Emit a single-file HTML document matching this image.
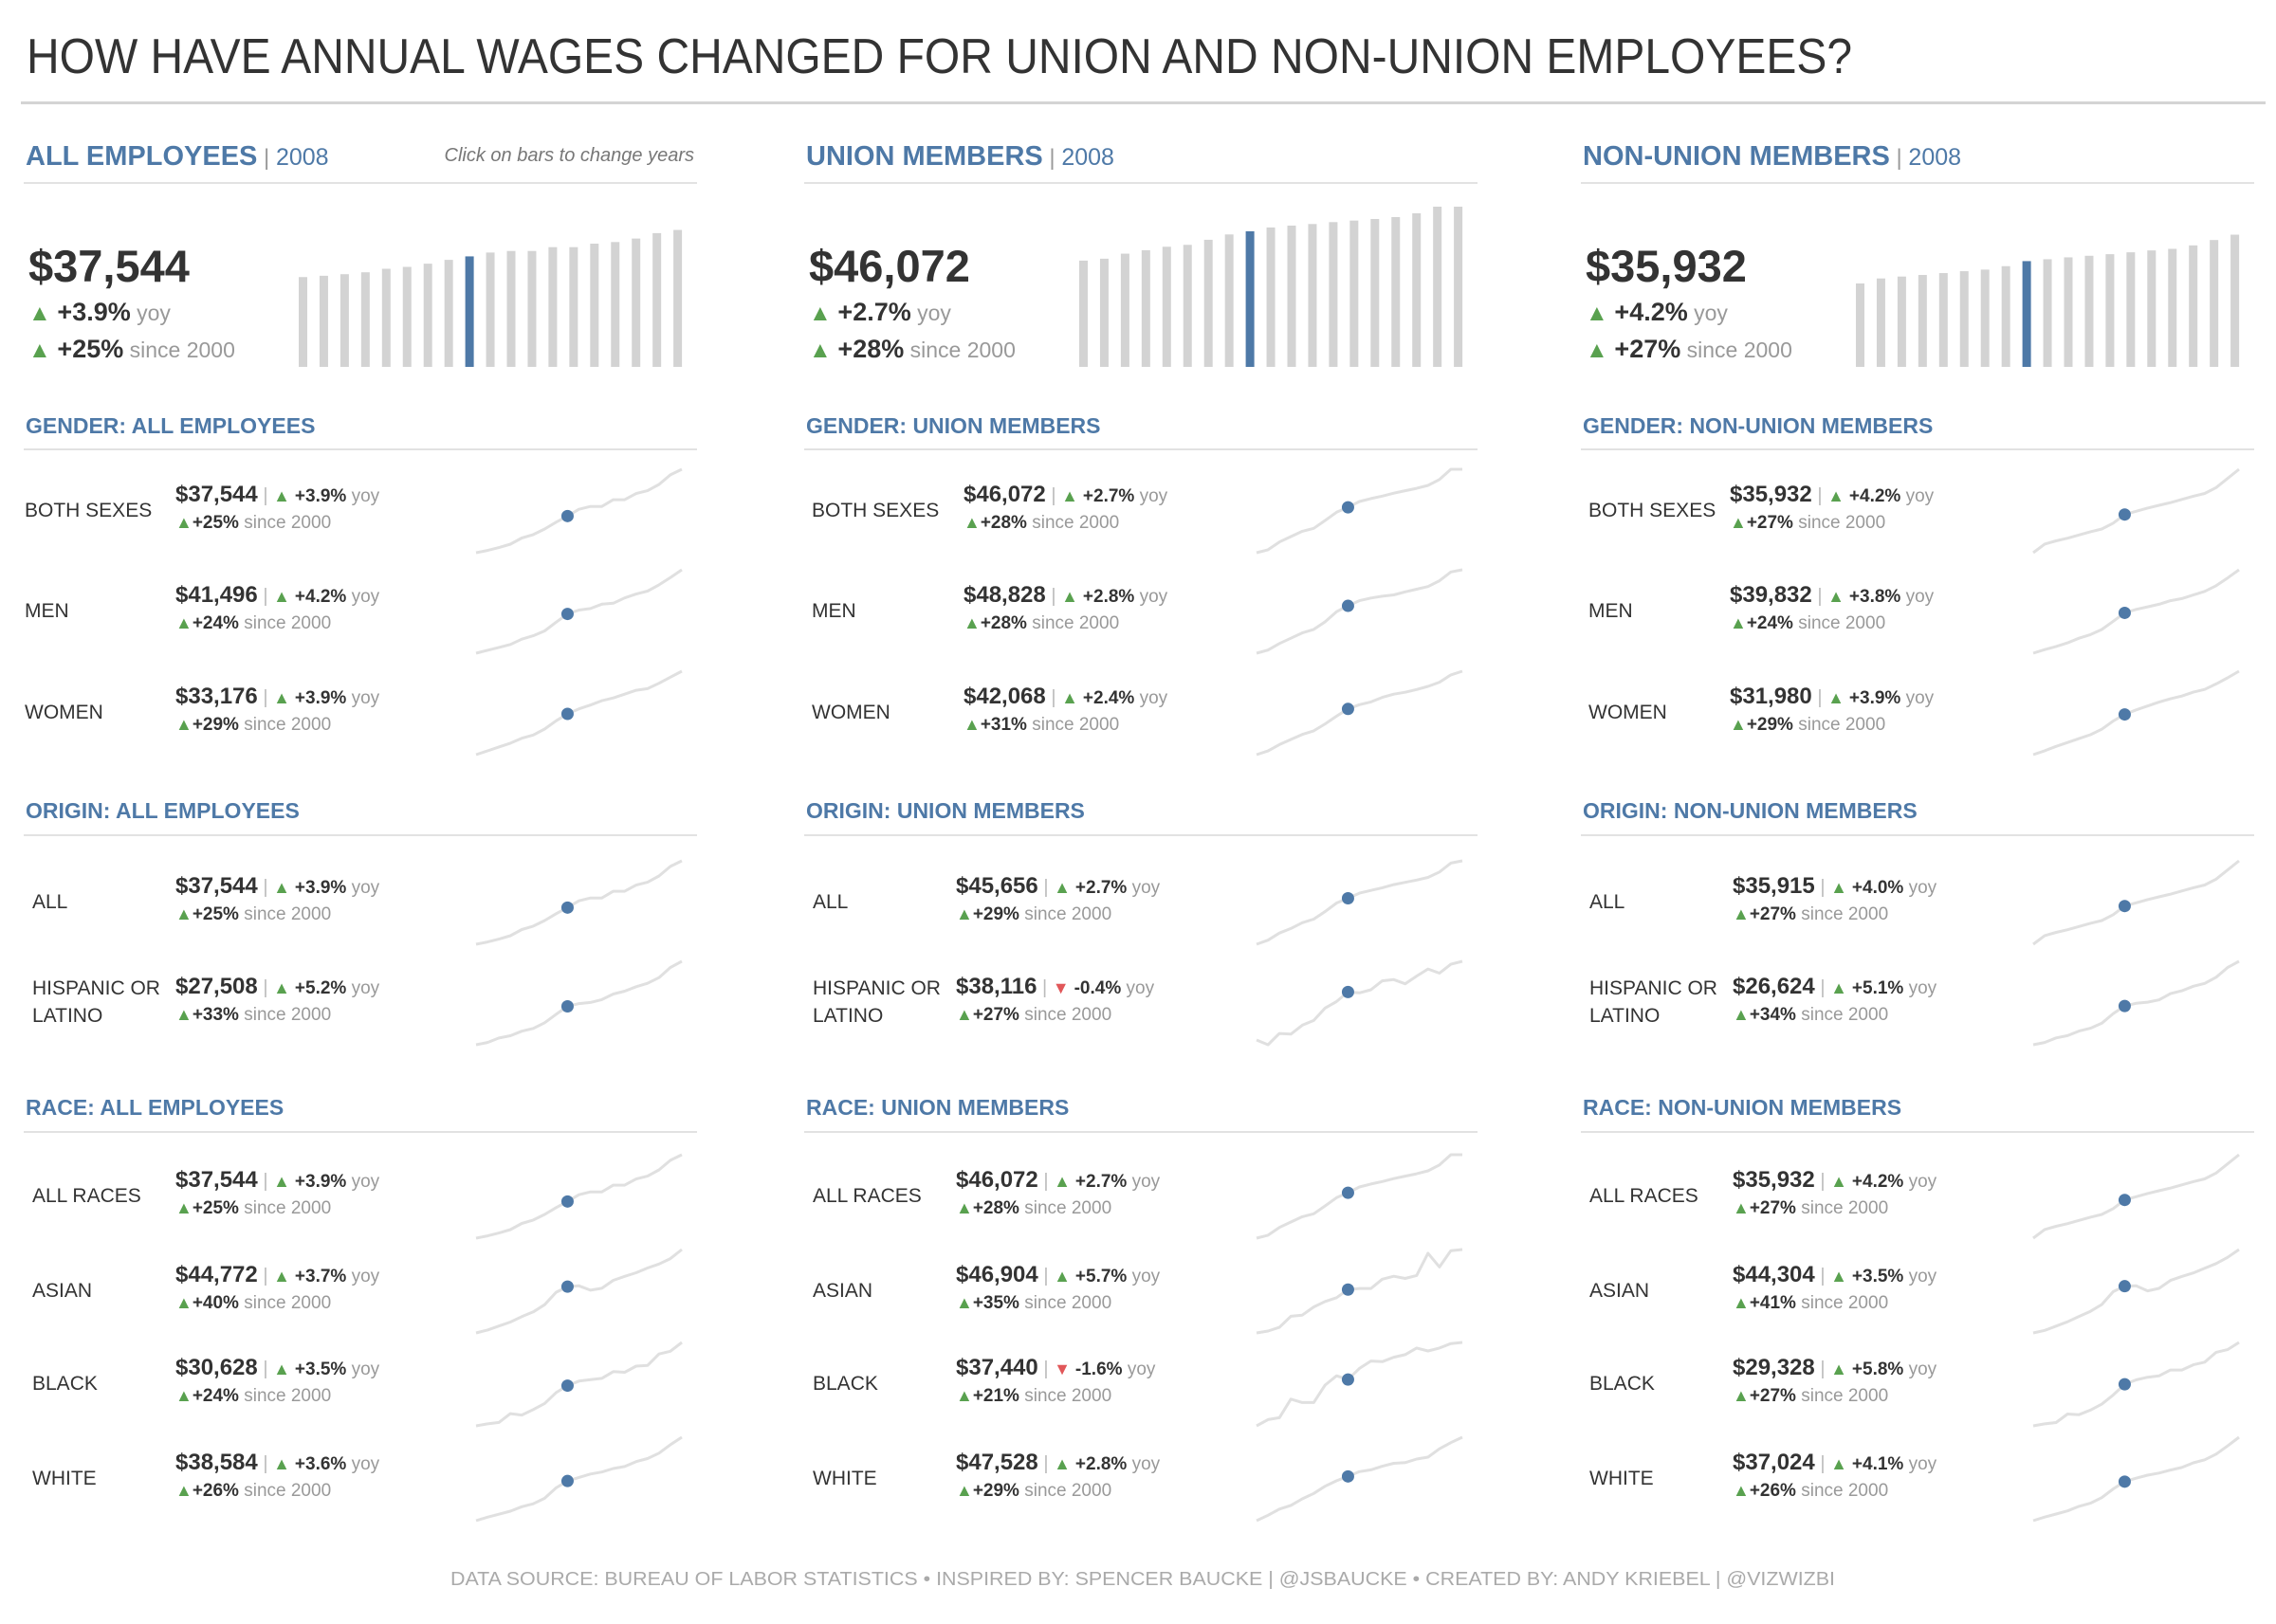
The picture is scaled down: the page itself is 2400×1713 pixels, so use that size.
<!DOCTYPE html>
<html><head><meta charset="utf-8"><style>
html,body{margin:0;padding:0;background:#fff}
svg text{font-family:"Liberation Sans",sans-serif}
</style></head><body>
<svg id="viz" xmlns="http://www.w3.org/2000/svg" width="2400" height="1708" viewBox="0 0 2400 1708">
<text x="28" y="77" font-size="52" fill="#333" textLength="1925" lengthAdjust="spacingAndGlyphs">HOW HAVE ANNUAL WAGES CHANGED FOR UNION AND NON-UNION EMPLOYEES?</text>
<rect x="22" y="107" width="2367" height="3" fill="#d4d4d4"/>
<text x="475" y="1672" font-size="20" fill="#aaa" textLength="1460" lengthAdjust="spacingAndGlyphs">DATA SOURCE: BUREAU OF LABOR STATISTICS  •  INSPIRED BY: SPENCER BAUCKE | @JSBAUCKE  •  CREATED BY: ANDY KRIEBEL | @VIZWIZBI</text>
</svg>
<script>
const years = [2000,2001,2002,2003,2004,2005,2006,2007,2008,2009,2010,2011,2012,2013,2014,2015,2016,2017,2018];
const selectedIndex = 8;
const allBars = [30510,30950,31490,32140,33330,33980,35060,36360,37544,38840,39380,39380,40680,40680,41870,42410,43600,45440,46520];
const unionBars = [36107,36750,38464,39642,40821,41464,43178,45000,46072,47357,48000,48535,49178,49714,50250,50892,52178,54428,54428];
const nonUnionBars = [28339,30050,30692,31226,31868,32510,33045,34221,35932,36573,37215,37750,38285,38927,39568,40103,41279,43097,44915];
const barMax = 54428;

const allMen = [33400,34000,34600,35200,36300,37000,38000,39800,41496,42300,42600,43500,43700,44800,45600,46200,47500,49000,50600];
const allWomen = [25700,26400,27100,27800,28700,29300,30400,31900,33176,34100,34800,35600,36100,36800,37500,37800,38800,39900,41000];
const allHispanic = [20700,21100,21900,22300,23100,23600,24600,26100,27508,28000,28200,28700,29700,30200,31000,31600,32600,34400,35500];
const allAsian = [32000,32800,33900,35000,36500,37800,39800,43200,44772,45000,43800,44300,46500,47600,48600,49900,51000,52500,55000];
const allBlack = [24700,25000,25200,26500,26300,27100,28000,29600,30628,31300,31500,31700,32700,32600,33500,33600,35300,35700,37000];
const allWhite = [30600,31300,31900,32500,33400,34000,35100,37200,38584,39300,40000,40400,41100,41500,42500,43100,44200,45900,47400];

const unMen = [38100,38800,40300,41500,42700,43500,45200,47500,48828,50000,50600,51000,51300,52000,52600,53200,54500,56500,57000];
const unWomen = [32100,32900,34300,35400,36500,37300,38800,40500,42068,43000,43600,44600,45300,45700,46300,47000,47900,49500,50300];
const unOriginAll = [35400,36300,37900,38900,40200,41000,42700,44600,45656,46800,47400,48000,48700,49200,49700,50300,51500,53500,54000];
const unHispanic = [30000,29200,31100,31000,32500,33300,35400,36500,38116,37960,38500,40000,40200,39500,40800,42000,41300,42800,43300];
const unAsian = [39884,40184,40784,42584,42764,44084,44984,45584,46904,47084,47084,48584,49064,48704,49184,52784,50564,53204,53384];
const unBlack = [30565,31500,31775,34525,34030,34030,36615,37990,37440,39090,40190,40080,40740,41125,42115,41675,42115,42775,42940];
const unWhite = [40208,41108,42128,42728,43808,44708,45908,46808,47528,48308,48608,49208,49688,49808,50408,50708,52088,53108,54008];

const nuMen = [32000,32700,33300,34000,34900,35600,36600,38200,39832,40500,41000,41500,42200,42600,43300,44000,45100,46600,48200];
const nuWomen = [24700,25400,26200,26900,27600,28300,29300,30800,31980,32800,33500,34200,34800,35300,36000,36500,37500,38600,39800];
const nuHispanic = [19800,20200,21000,21400,22200,22700,23600,25300,26624,27100,27300,27700,28800,29300,30100,30600,31700,33400,34500];
const nuAsian = [31300,32000,33200,34400,35900,37300,39200,42800,44304,44400,43000,43700,45900,47000,48000,49300,50600,52300,54500];
const nuBlack = [23000,23300,23500,24800,24700,25400,26300,27700,29328,30000,30400,30600,31500,31500,32300,32700,34200,34600,35700];
const nuWhite = [29400,30100,30700,31300,32200,32800,33900,35600,37024,37700,38300,38700,39300,39800,40700,41300,42400,44000,45700];

const panelTitles = ["ALL EMPLOYEES","UNION MEMBERS","NON-UNION MEMBERS"];
const panelHeadline = ["$37,544","$46,072","$35,932"];
const panelYoy = ["+3.9%","+2.7%","+4.2%"];
const panelSince = ["+25%","+28%","+27%"];
const panelBars = [allBars, unionBars, nonUnionBars];

const genderRows = [
 [["BOTH SEXES","$37,544","+3.9%","+25%",allBars],["MEN","$41,496","+4.2%","+24%",allMen],["WOMEN","$33,176","+3.9%","+29%",allWomen]],
 [["BOTH SEXES","$46,072","+2.7%","+28%",unionBars],["MEN","$48,828","+2.8%","+28%",unMen],["WOMEN","$42,068","+2.4%","+31%",unWomen]],
 [["BOTH SEXES","$35,932","+4.2%","+27%",nonUnionBars],["MEN","$39,832","+3.8%","+24%",nuMen],["WOMEN","$31,980","+3.9%","+29%",nuWomen]]
];
const originRows = [
 [["ALL","$37,544","+3.9%","+25%",allBars],["HISPANIC OR|LATINO","$27,508","+5.2%","+33%",allHispanic]],
 [["ALL","$45,656","+2.7%","+29%",unOriginAll],["HISPANIC OR|LATINO","$38,116","-0.4%","+27%",unHispanic]],
 [["ALL","$35,915","+4.0%","+27%",nonUnionBars],["HISPANIC OR|LATINO","$26,624","+5.1%","+34%",nuHispanic]]
];
const raceRows = [
 [["ALL RACES","$37,544","+3.9%","+25%",allBars],["ASIAN","$44,772","+3.7%","+40%",allAsian],["BLACK","$30,628","+3.5%","+24%",allBlack],["WHITE","$38,584","+3.6%","+26%",allWhite]],
 [["ALL RACES","$46,072","+2.7%","+28%",unionBars],["ASIAN","$46,904","+5.7%","+35%",unAsian],["BLACK","$37,440","-1.6%","+21%",unBlack],["WHITE","$47,528","+2.8%","+29%",unWhite]],
 [["ALL RACES","$35,932","+4.2%","+27%",nonUnionBars],["ASIAN","$44,304","+3.5%","+41%",nuAsian],["BLACK","$29,328","+5.8%","+27%",nuBlack],["WHITE","$37,024","+4.1%","+26%",nuWhite]]
];
const sectionNames = ["GENDER","ORIGIN","RACE"];

const NS = "http://www.w3.org/2000/svg";
const svg = document.getElementById('viz');
const BLUE = "#4e79a7", GREEN = "#59a14f", RED = "#e15759";
const colX = [22, 845, 1664];

function mk(tag, attrs, parent){
  const e = document.createElementNS(NS, tag);
  for (const k in attrs) e.setAttribute(k, attrs[k]);
  (parent || svg).appendChild(e);
  return e;
}
function ts(parent, txt, attrs){
  const t = mk('tspan', attrs, parent);
  t.textContent = txt;
  return t;
}
function barY(v){ return 387 - v / barMax * 169; }

for (let c = 0; c < 3; c++){
  const X = colX[c];
  const h = mk('text', {x: X+5, y: 174, 'font-size': 29, fill: BLUE});
  
  
  ts(h, panelTitles[c], {'font-weight':'bold'});
  ts(h, " | ", {fill:'#999','font-size':24});
  ts(h, "2008", {'font-size':25});
  if (c === 0){
    const hint = mk('text', {x: X+710, y: 170, 'font-size': 20, fill: '#777', 'font-style':'italic', 'text-anchor':'end'});
    
    
    hint.textContent = "Click on bars to change years";
  }
  const hl = mk('rect', {x: X+3, y: 192, width: 710, height: 2, fill: '#e2e2e2'});
  
  

  const kpi = mk('text', {x: X+8, y: 297, 'font-size': 47, 'font-weight':'bold', fill:'#333'});
  
  
  kpi.textContent = panelHeadline[c];
  const l1 = mk('text', {x: X+8, y: 338, 'font-size': 27, fill:'#333'});
  
  
  ts(l1, "▲ ", {fill: GREEN, 'font-size': 24});
  ts(l1, panelYoy[c], {'font-weight':'bold'});
  ts(l1, " yoy", {fill:'#999', 'font-size': 23});
  const l2 = mk('text', {x: X+8, y: 377, 'font-size': 27, fill:'#333'});
  
  
  ts(l2, "▲ ", {fill: GREEN, 'font-size': 24});
  ts(l2, panelSince[c], {'font-weight':'bold'});
  ts(l2, " since 2000", {fill:'#999', 'font-size': 23});

  const vals = panelBars[c];
  for (let i = 0; i < vals.length; i++){
    const y = barY(vals[i]);
    const b = mk('rect', {x: X + 293 + i*21.95, y: y, width: 9, height: 387 - y, fill: i === selectedIndex ? BLUE : '#d3d3d3'});
    
    
  }

  const sections = [
    {rows: genderRows[c], head: 457, line: 473, centers: [537,643,750], lab: [4,11,11][c], val: [163,171,160][c]},
    {rows: originRows[c], head: 863, line: 880, centers: [950,1056], lab: 12, val: 163},
    {rows: raceRows[c], head: 1176, line: 1193, centers: [1260,1360,1458,1558], lab: 12, val: 163}
  ];
  sections.forEach((s, si) => {
    const sh = mk('text', {x: X+5, y: s.head, 'font-size': 23, 'font-weight':'bold', fill: BLUE});
    
    
    sh.textContent = sectionNames[si] + ": " + panelTitles[c];
    const sl = mk('rect', {x: X+3, y: s.line, width: 710, height: 2, fill: '#e2e2e2'});
    
    

    s.rows.forEach((r, ri) => {
      const cy = s.centers[ri];
      const parts = r[0].split('|');
      parts.forEach((p, pi) => {
        const ly = parts.length === 1 ? cy + 8 : cy - 15 + 8 + pi*29;
        const lt = mk('text', {x: X + s.lab, y: ly, 'font-size': 21, fill: '#333'});
        
        
        lt.textContent = p;
      });
      const down = r[2].charAt(0) === '-';
      const v1 = mk('text', {x: X + s.val, y: cy - 8, 'font-size': 20, fill: '#333'});
      
      
      ts(v1, r[1], {'font-weight':'bold', 'font-size': 24});
      ts(v1, " | ", {fill:'#bbb'});
      ts(v1, down ? "▼ " : "▲ ", {fill: down ? RED : GREEN, 'font-size': 18});
      ts(v1, r[2], {'font-weight':'bold', 'font-size': 19});
      ts(v1, " yoy", {fill:'#999', 'font-size': 19});
      const v2 = mk('text', {x: X + s.val, y: cy + 20, 'font-size': 19, fill: '#333'});
      
      
      ts(v2, "▲", {fill: GREEN, 'font-size': 18});
      ts(v2, r[3], {'font-weight':'bold'});
      ts(v2, " since 2000", {fill:'#999'});

      const data = r[4];
      const mn = Math.min(...data), mx = Math.max(...data);
      const sx = i => X + 480 + i * (217 / (data.length - 1));
      const sy = v => (cy + 46) - (v - mn) / (mx - mn) * 88;
      const d = data.map((v, i) => (i ? 'L' : 'M') + sx(i).toFixed(1) + ' ' + sy(v).toFixed(1)).join(' ');
      const pl = mk('path', {d: d, fill: 'none', stroke: '#e0e0e0', 'stroke-width': 3, 'stroke-linejoin':'round'});
      
      
      const dot = mk('circle', {cx: sx(selectedIndex), cy: sy(data[selectedIndex]), r: 6.5, fill: BLUE});
      
      
    });
  });
}
</script>
</body></html>
